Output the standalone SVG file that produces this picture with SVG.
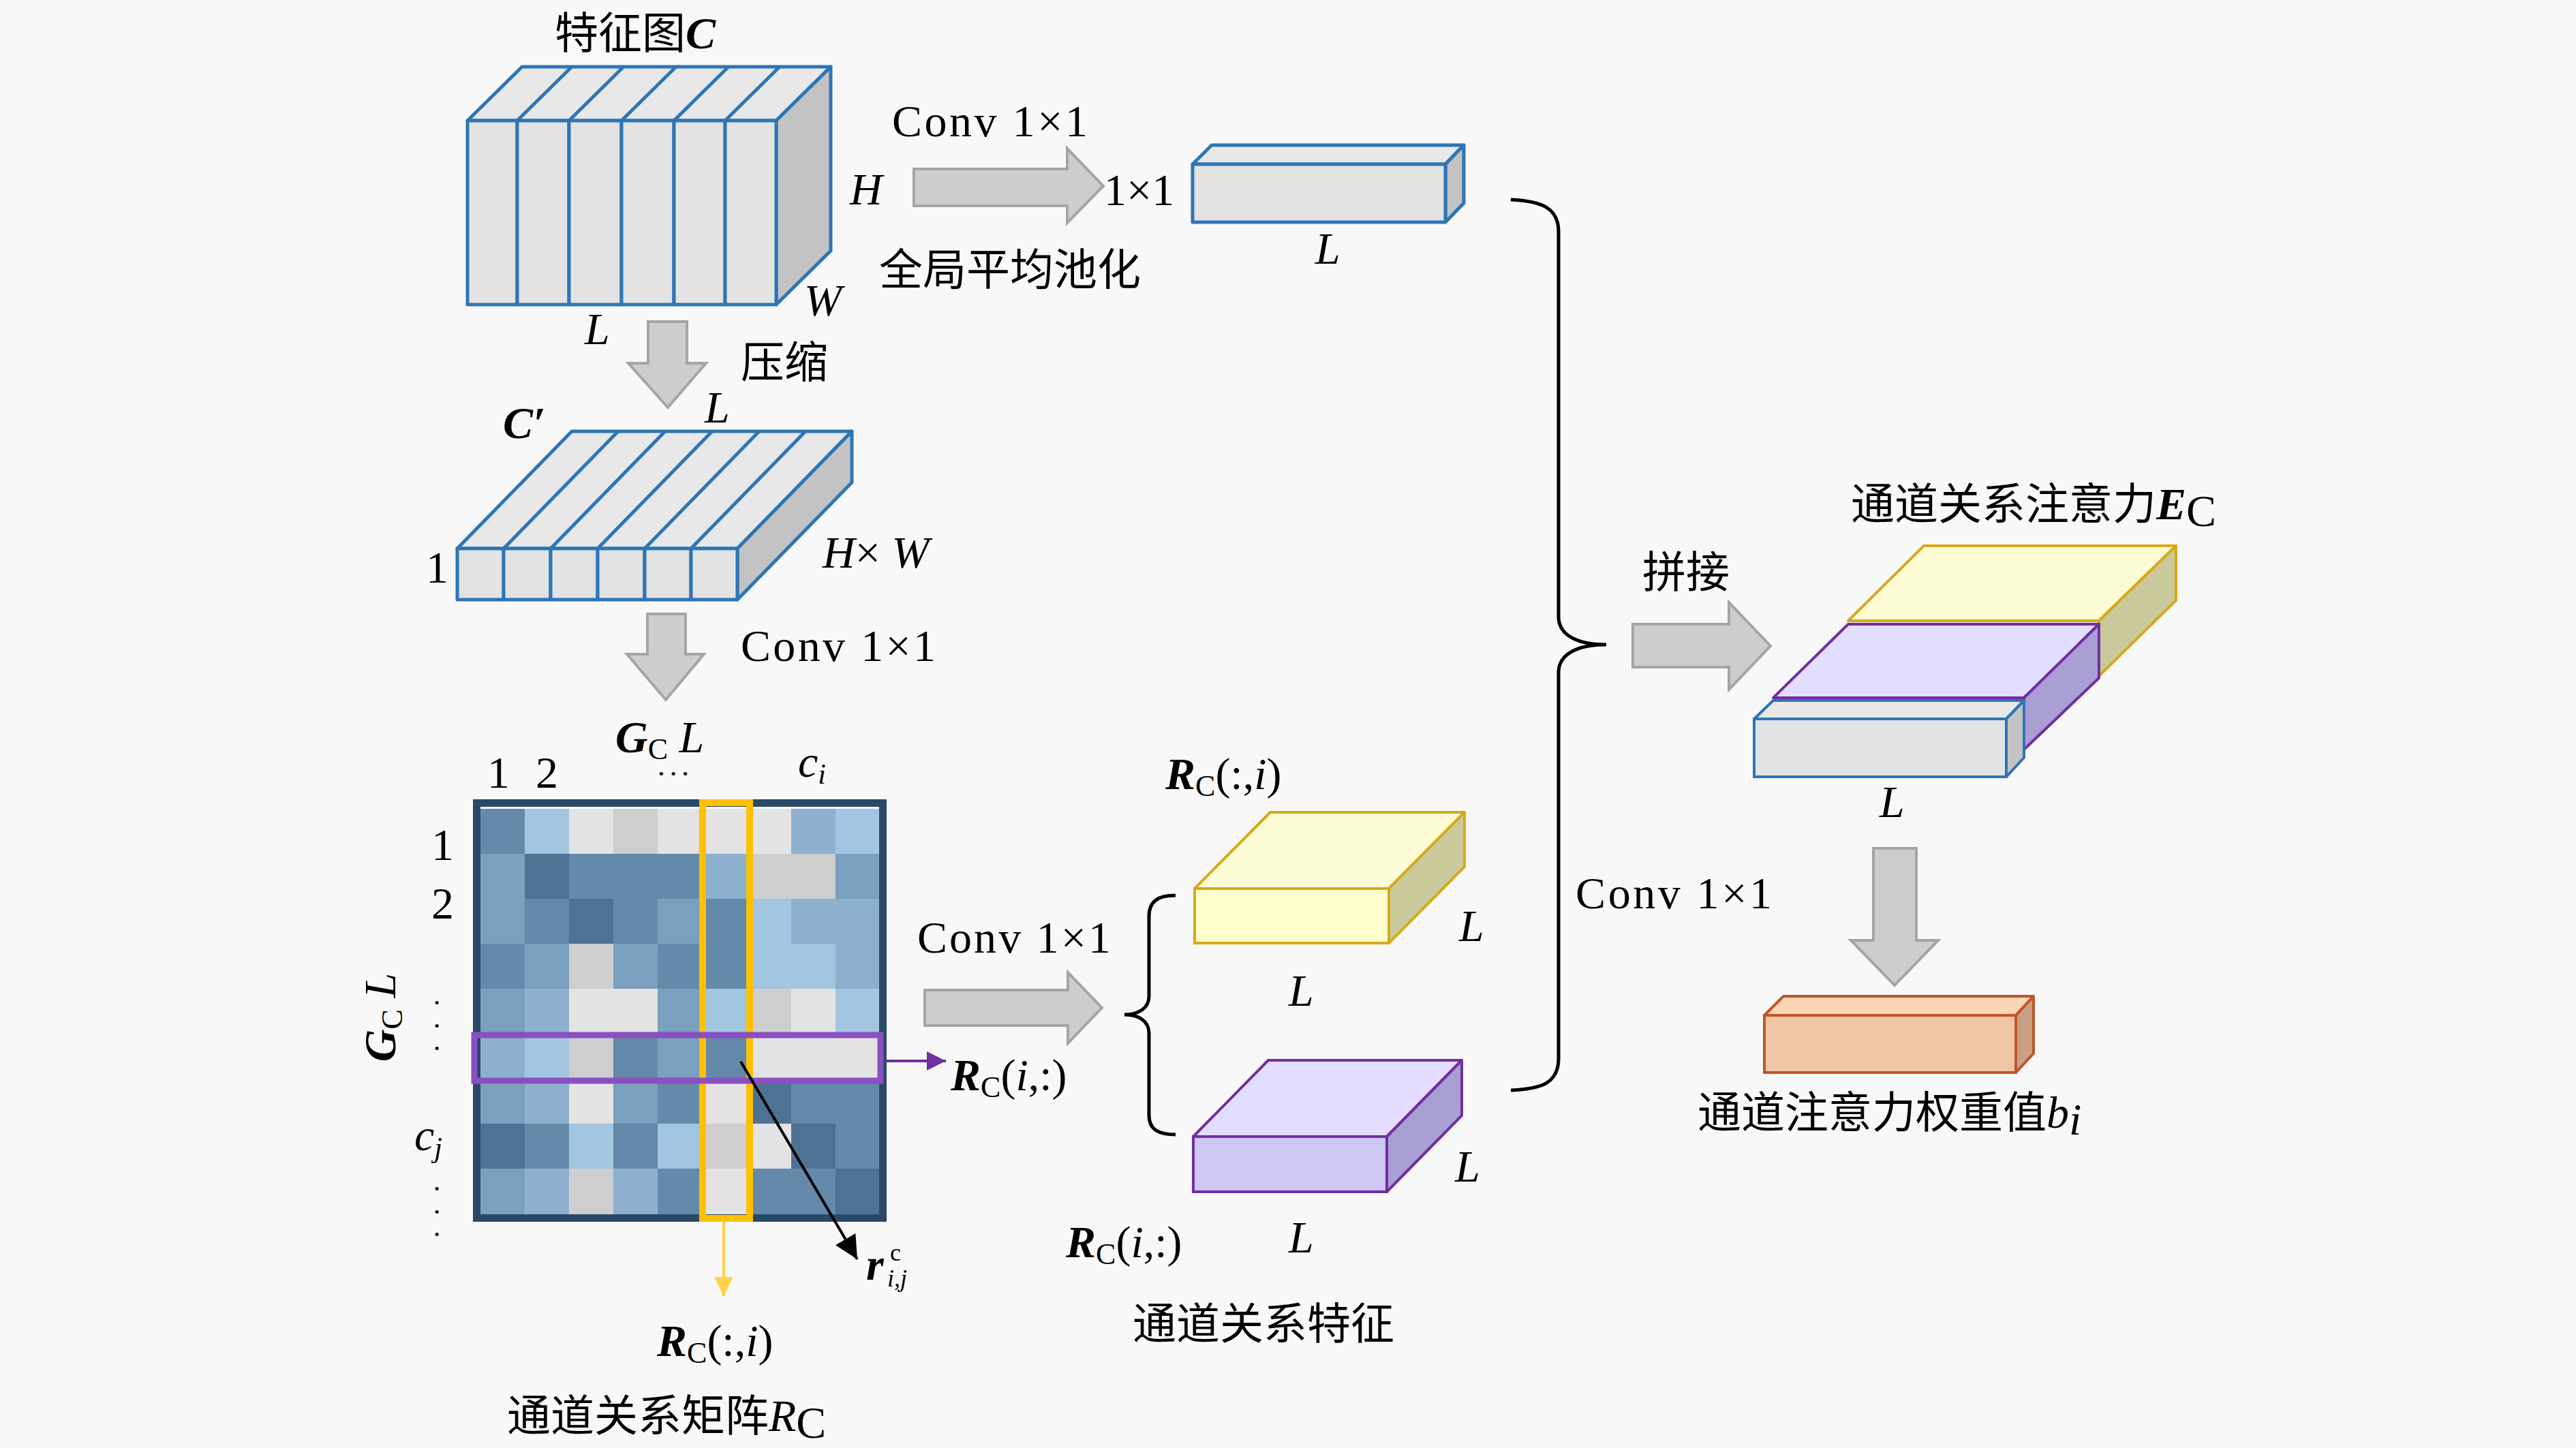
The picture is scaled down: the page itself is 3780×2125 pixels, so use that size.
<svg xmlns="http://www.w3.org/2000/svg" width="3780" height="2125" viewBox="0 0 3780 2125">
<style>
.t{font-family:"Liberation Serif",serif;font-size:66px;fill:#000}
.it{font-style:italic}
.bi{font-style:italic;font-weight:bold}
.cjk{font-family:"Noto Sans CJK SC",sans-serif;font-size:64px;fill:#000}
.dot{font-family:"Liberation Serif",serif;font-size:22px;fill:#000;text-anchor:middle}
.arr{fill:#cdcdcd;stroke:#a5a5a5;stroke-width:4}
.bl{stroke:#2e75b6;stroke-width:5;stroke-linejoin:round}
.gf{fill:#e3e3e3}
.gt{fill:#e8e8e8}
.gr{fill:#c3c3c3}
.cD{fill:#4e7294}.cM{fill:#6489aa}.cB{fill:#7a9fbf}.cC{fill:#8db0cf}.cA{fill:#a2c5e2}.cG{fill:#cecece}.cW{fill:#e3e3e3}
.brace{fill:none;stroke:#000;stroke-width:5}
</style>
<defs>
<marker id="mp" viewBox="0 0 10 10" refX="10" refY="5" markerWidth="30" markerHeight="28" markerUnits="userSpaceOnUse" orient="auto"><path d="M0,0 L10,5 L0,10 z" fill="#7030a0"/></marker>
<marker id="my" viewBox="0 0 10 10" refX="10" refY="5" markerWidth="28" markerHeight="28" markerUnits="userSpaceOnUse" orient="auto"><path d="M0,0 L10,5 L0,10 z" fill="#ffd24a"/></marker>
<marker id="mk" viewBox="0 0 10 10" refX="10" refY="5" markerWidth="46" markerHeight="34" markerUnits="userSpaceOnUse" orient="auto"><path d="M0,0 L10,5 L0,10 z" fill="#000"/></marker>
</defs>
<rect x="0" y="0" width="3780" height="2125" fill="#f8f8f8"/>

<g id="featureC">
<polygon class="gt bl" points="686,177 766,98 1219,98 1139,177"/>
<polygon class="gr bl" points="1139,177 1219,98 1219,368 1139,447"/>
<rect class="gf bl" x="686" y="177" width="73" height="270"/>
<rect class="gf bl" x="759" y="177" width="76" height="270"/>
<rect class="gf bl" x="835" y="177" width="77" height="270"/>
<rect class="gf bl" x="912" y="177" width="77" height="270"/>
<rect class="gf bl" x="989" y="177" width="75" height="270"/>
<rect class="gf bl" x="1064" y="177" width="75" height="270"/>
<g class="bl" fill="none">
<line x1="759" y1="177" x2="839" y2="98"/><line x1="835" y1="177" x2="915" y2="98"/><line x1="912" y1="177" x2="992" y2="98"/><line x1="989" y1="177" x2="1069" y2="98"/><line x1="1064" y1="177" x2="1144" y2="98"/>
</g>
<text class="cjk" x="814" y="71" font-size="58">特征图<tspan class="t bi" font-size="62">C</tspan></text>
<text class="t it" x="1247" y="300">H</text>
<text class="t it" x="1180" y="463">W</text>
<text class="t it" x="858" y="505">L</text>
</g>

<g id="pooled">
<polygon class="gt bl" points="1750,241 1778,213 2148,213 2121,241"/>
<polygon class="gr bl" points="2121,241 2148,213 2148,298 2121,326"/>
<rect class="gf bl" x="1750" y="241" width="371" height="85"/>
<text class="t it" x="1930" y="387">L</text>
</g>

<g id="featureCprime">
<polygon class="gt bl" points="671,805 839,633 1250,633 1082,805"/>
<polygon class="gr bl" points="1082,805 1250,633 1250,708 1082,880"/>
<rect class="gf bl" x="671" y="805" width="68" height="75"/>
<rect class="gf bl" x="739" y="805" width="69" height="75"/>
<rect class="gf bl" x="808" y="805" width="69" height="75"/>
<rect class="gf bl" x="877" y="805" width="69" height="75"/>
<rect class="gf bl" x="946" y="805" width="68" height="75"/>
<rect class="gf bl" x="1014" y="805" width="68" height="75"/>
<g class="bl" fill="none">
<line x1="739" y1="805" x2="907" y2="633"/><line x1="808" y1="805" x2="976" y2="633"/><line x1="877" y1="805" x2="1045" y2="633"/><line x1="946" y1="805" x2="1114" y2="633"/><line x1="1014" y1="805" x2="1182" y2="633"/>
</g>
<text class="t bi" x="738" y="643">C′</text>
<text class="t it" x="1034" y="620">L</text>
<text class="t" x="625" y="855">1</text>
<text class="t" x="1207" y="833"><tspan class="it">H</tspan>× <tspan class="it">W</tspan></text>
</g>

<g id="matrix">
<rect class="cM" x="705" y="1187" width="66" height="67"/><rect class="cA" x="770" y="1187" width="66" height="67"/><rect class="cW" x="835" y="1187" width="66" height="67"/><rect class="cG" x="900" y="1187" width="66" height="67"/><rect class="cW" x="965" y="1187" width="66" height="67"/><rect class="cW" x="1030" y="1187" width="67" height="67"/><rect class="cW" x="1096" y="1187" width="66" height="67"/><rect class="cC" x="1161" y="1187" width="66" height="67"/><rect class="cA" x="1226" y="1187" width="66" height="67"/>
<rect class="cB" x="705" y="1253" width="66" height="67"/><rect class="cD" x="770" y="1253" width="66" height="67"/><rect class="cM" x="835" y="1253" width="66" height="67"/><rect class="cM" x="900" y="1253" width="66" height="67"/><rect class="cM" x="965" y="1253" width="66" height="67"/><rect class="cC" x="1030" y="1253" width="67" height="67"/><rect class="cG" x="1096" y="1253" width="66" height="67"/><rect class="cG" x="1161" y="1253" width="66" height="67"/><rect class="cB" x="1226" y="1253" width="66" height="67"/>
<rect class="cB" x="705" y="1319" width="66" height="67"/><rect class="cM" x="770" y="1319" width="66" height="67"/><rect class="cD" x="835" y="1319" width="66" height="67"/><rect class="cM" x="900" y="1319" width="66" height="67"/><rect class="cB" x="965" y="1319" width="66" height="67"/><rect class="cM" x="1030" y="1319" width="67" height="67"/><rect class="cA" x="1096" y="1319" width="66" height="67"/><rect class="cC" x="1161" y="1319" width="66" height="67"/><rect class="cC" x="1226" y="1319" width="66" height="67"/>
<rect class="cM" x="705" y="1385" width="66" height="67"/><rect class="cB" x="770" y="1385" width="66" height="67"/><rect class="cG" x="835" y="1385" width="66" height="67"/><rect class="cB" x="900" y="1385" width="66" height="67"/><rect class="cM" x="965" y="1385" width="66" height="67"/><rect class="cM" x="1030" y="1385" width="67" height="67"/><rect class="cA" x="1096" y="1385" width="66" height="67"/><rect class="cA" x="1161" y="1385" width="66" height="67"/><rect class="cC" x="1226" y="1385" width="66" height="67"/>
<rect class="cB" x="705" y="1451" width="66" height="67"/><rect class="cC" x="770" y="1451" width="66" height="67"/><rect class="cW" x="835" y="1451" width="66" height="67"/><rect class="cW" x="900" y="1451" width="66" height="67"/><rect class="cB" x="965" y="1451" width="66" height="67"/><rect class="cA" x="1030" y="1451" width="67" height="67"/><rect class="cG" x="1096" y="1451" width="66" height="67"/><rect class="cW" x="1161" y="1451" width="66" height="67"/><rect class="cA" x="1226" y="1451" width="66" height="67"/>
<rect class="cC" x="705" y="1517" width="66" height="67"/><rect class="cA" x="770" y="1517" width="66" height="67"/><rect class="cG" x="835" y="1517" width="66" height="67"/><rect class="cM" x="900" y="1517" width="66" height="67"/><rect class="cB" x="965" y="1517" width="66" height="67"/><rect class="cM" x="1030" y="1517" width="67" height="67"/><rect class="cW" x="1096" y="1517" width="66" height="67"/><rect class="cW" x="1161" y="1517" width="66" height="67"/><rect class="cW" x="1226" y="1517" width="66" height="67"/>
<rect class="cB" x="705" y="1583" width="66" height="67"/><rect class="cC" x="770" y="1583" width="66" height="67"/><rect class="cW" x="835" y="1583" width="66" height="67"/><rect class="cB" x="900" y="1583" width="66" height="67"/><rect class="cM" x="965" y="1583" width="66" height="67"/><rect class="cW" x="1030" y="1583" width="67" height="67"/><rect class="cD" x="1096" y="1583" width="66" height="67"/><rect class="cM" x="1161" y="1583" width="66" height="67"/><rect class="cM" x="1226" y="1583" width="66" height="67"/>
<rect class="cD" x="705" y="1649" width="66" height="67"/><rect class="cM" x="770" y="1649" width="66" height="67"/><rect class="cA" x="835" y="1649" width="66" height="67"/><rect class="cM" x="900" y="1649" width="66" height="67"/><rect class="cA" x="965" y="1649" width="66" height="67"/><rect class="cG" x="1030" y="1649" width="67" height="67"/><rect class="cW" x="1096" y="1649" width="66" height="67"/><rect class="cD" x="1161" y="1649" width="66" height="67"/><rect class="cM" x="1226" y="1649" width="66" height="67"/>
<rect class="cB" x="705" y="1715" width="66" height="67"/><rect class="cC" x="770" y="1715" width="66" height="67"/><rect class="cG" x="835" y="1715" width="66" height="67"/><rect class="cC" x="900" y="1715" width="66" height="67"/><rect class="cM" x="965" y="1715" width="66" height="67"/><rect class="cW" x="1030" y="1715" width="67" height="67"/><rect class="cM" x="1096" y="1715" width="66" height="67"/><rect class="cM" x="1161" y="1715" width="66" height="67"/><rect class="cD" x="1226" y="1715" width="66" height="67"/>
<rect x="699.5" y="1178.5" width="596" height="609" fill="none" stroke="#2a4968" stroke-width="11"/>
<rect x="1031" y="1178" width="69" height="610" fill="none" stroke="#ffc000" stroke-width="10"/>
<rect x="696" y="1519" width="596" height="67" fill="none" stroke="#8a4fc0" stroke-width="9"/>
<text class="t" x="715" y="1156">1</text>
<text class="t" x="786" y="1156">2</text>
<text class="t" x="903" y="1104"><tspan class="bi">G</tspan><tspan font-size="44" dy="10">C</tspan><tspan class="it" dy="-10"> L</tspan></text>
<text class="dot" x="993" y="1143" letter-spacing="10">•••</text>
<text class="t" x="1171" y="1140"><tspan class="it">c</tspan><tspan class="it" font-size="42" dy="10">i</tspan></text>
<text class="t" x="633" y="1262">1</text>
<text class="t" x="633" y="1348">2</text>
<text class="dot" x="641" y="1479">•</text>
<text class="dot" x="641" y="1513">•</text>
<text class="dot" x="641" y="1546">•</text>
<text class="t" x="608" y="1688"><tspan class="it">c</tspan><tspan class="it" font-size="42" dy="10">j</tspan></text>
<text class="dot" x="641" y="1752">•</text>
<text class="dot" x="641" y="1786">•</text>
<text class="dot" x="641" y="1819">•</text>
<text class="t" text-anchor="middle" transform="translate(580,1493) rotate(-90)"><tspan class="bi">G</tspan><tspan font-size="44" dy="10">C</tspan><tspan class="it" dy="-10"> L</tspan></text>
<text class="t"><tspan class="bi" x="1271" y="1878">r</tspan><tspan font-size="36" x="1306" y="1850">c</tspan><tspan class="it" font-size="36" x="1302" y="1888">i,j</tspan></text>
<text class="t" x="964" y="1990"><tspan class="bi">R</tspan><tspan font-size="44" dy="10">C</tspan><tspan dy="-10">(:,</tspan><tspan class="it">i</tspan>)</text>
<text class="cjk" x="744" y="2100">通道关系矩阵<tspan class="t it" font-size="66">R</tspan><tspan class="t" font-size="44" dy="10">C</tspan></text>
</g>

<g id="relFeatYellow">
<polygon points="1753,1304 1864,1192 2149,1192 2038,1304" fill="#fcfcd4" stroke="#d9a81c" stroke-width="4" stroke-linejoin="round"/>
<polygon points="2038,1304 2149,1192 2149,1272 2038,1384" fill="#c9c99c" stroke="#d9a81c" stroke-width="4" stroke-linejoin="round"/>
<rect x="1753" y="1304" width="285" height="80" fill="#ffffcc" stroke="#d9a81c" stroke-width="4"/>
<text class="t" x="1710" y="1158"><tspan class="bi">R</tspan><tspan font-size="44" dy="10">C</tspan><tspan dy="-10">(:,</tspan><tspan class="it">i</tspan>)</text>
<text class="t it" x="2141" y="1381">L</text>
<text class="t it" x="1891" y="1476">L</text>
</g>

<g id="relFeatPurple">
<polygon points="1751,1668 1861,1556 2145,1556 2035,1668" fill="#e3deff" stroke="#7030a0" stroke-width="4" stroke-linejoin="round"/>
<polygon points="2035,1668 2145,1556 2145,1637 2035,1749" fill="#a99fd2" stroke="#7030a0" stroke-width="4" stroke-linejoin="round"/>
<rect x="1751" y="1668" width="284" height="81" fill="#cec6f3" stroke="#7030a0" stroke-width="4"/>
<text class="t it" x="2135" y="1734">L</text>
<text class="t it" x="1891" y="1838">L</text>
<text class="t" x="1564" y="1845"><tspan class="bi">R</tspan><tspan font-size="44" dy="10">C</tspan><tspan dy="-10">(</tspan><tspan class="it">i</tspan>,:)</text>
<text class="cjk" x="1662" y="1965" font-size="65">通道关系特征</text>
</g>

<g id="attentionEc">
<polygon points="2712,911 2823,801 3193,801 3080,911" fill="#fcfcd4" stroke="#d9a81c" stroke-width="4" stroke-linejoin="round"/>
<polygon points="3080,911 3193,801 3193,881 3080,992" fill="#c9c99c" stroke="#d9a81c" stroke-width="4" stroke-linejoin="round"/>
<polygon points="2602,1024 2712,916 3080,916 2970,1024" fill="#e3deff" stroke="#7030a0" stroke-width="4" stroke-linejoin="round"/>
<polygon points="2970,1024 3080,916 3080,995 2970,1100" fill="#a99fd2" stroke="#7030a0" stroke-width="4" stroke-linejoin="round"/>
<polygon points="2574,1055 2602,1028 2970,1028 2944,1055" fill="#e8e8e8" stroke="#2e75b6" stroke-width="4" stroke-linejoin="round"/>
<polygon points="2944,1055 2970,1028 2970,1112 2944,1140" fill="#c3c3c3" stroke="#2e75b6" stroke-width="4" stroke-linejoin="round"/>
<rect x="2574" y="1055" width="370" height="85" fill="#e3e3e3" stroke="#2e75b6" stroke-width="4"/>
<text class="cjk" x="2716" y="762" font-size="65">通道关系注意力<tspan class="t bi" font-size="66">E</tspan><tspan class="t" font-size="44" dy="10">C</tspan></text>
<text class="t it" x="2758" y="1199">L</text>
</g>

<g id="weights">
<polygon points="2589,1490 2617,1462 2984,1462 2958,1490" fill="#fcd5b4" stroke="#c0562a" stroke-width="4" stroke-linejoin="round"/>
<polygon points="2958,1490 2984,1462 2984,1546 2958,1574" fill="#c9a083" stroke="#c0562a" stroke-width="4" stroke-linejoin="round"/>
<rect x="2589" y="1490" width="369" height="84" fill="#efc5a6" stroke="#c0562a" stroke-width="4"/>
<text class="cjk" x="2491" y="1655" font-size="65">通道注意力权重值<tspan class="t it" font-size="66">b</tspan><tspan class="t it" font-size="42" dy="10">i</tspan></text>
</g>

<g id="connectors">
<polygon class="arr" points="1341,248 1566,248 1566,218 1619,273 1566,327 1566,302 1341,302"/>
<text class="t" x="1309" y="200" font-size="70" textLength="287">Conv 1×1</text>
<text class="t" x="1620" y="301" font-size="68">1×1</text>
<text class="cjk" x="1290" y="418" font-size="65">全局平均池化</text>
<polygon class="arr" points="951,472 1008,472 1008,533 1036,533 980,598 922,533 951,533"/>
<text class="cjk" x="1087" y="554" font-size="62">压缩</text>
<polygon class="arr" points="950,901 1006,901 1006,960 1033,960 977,1027 920,960 950,960"/>
<text class="t" x="1087" y="970" font-size="70" textLength="286">Conv 1×1</text>
<polygon class="arr" points="1357,1453 1567,1453 1567,1427 1617,1479 1567,1531 1567,1505 1357,1505"/>
<text class="t" x="1346" y="1398" font-size="70" textLength="284">Conv 1×1</text>
<line x1="1301" y1="1557" x2="1388" y2="1557" stroke="#7030a0" stroke-width="4" marker-end="url(#mp)"/>
<text class="t" x="1395" y="1600"><tspan class="bi">R</tspan><tspan font-size="44" dy="10">C</tspan><tspan dy="-10">(</tspan><tspan class="it">i</tspan>,:)</text>
<line x1="1062" y1="1793" x2="1062" y2="1902" stroke="#ffd24a" stroke-width="4" marker-end="url(#my)"/>
<line x1="1087" y1="1558" x2="1258" y2="1848" stroke="#000" stroke-width="4" marker-end="url(#mk)"/>
<path class="brace" d="M1725,1314 C1700,1314 1686,1322 1686,1345 L1686,1462 C1686,1480 1670,1489 1650,1489 C1670,1489 1686,1498 1686,1516 L1686,1636 C1686,1658 1700,1665 1725,1665"/>
<path class="brace" d="M2217,293 C2262,295 2287,305 2287,340 L2287,905 C2287,935 2320,946 2357,946 C2320,946 2287,957 2287,987 L2287,1553 C2287,1590 2262,1598 2217,1600"/>
<polygon class="arr" points="2396,916 2537,916 2537,884 2598,948 2537,1012 2537,979 2396,979"/>
<text class="cjk" x="2410" y="862" font-size="62">拼接</text>
<text class="t" x="2312" y="1333" font-size="70" textLength="288">Conv 1×1</text>
<polygon class="arr" points="2749,1245 2812,1245 2812,1380 2844,1380 2780,1446 2716,1380 2749,1380"/>
</g>
</svg>
